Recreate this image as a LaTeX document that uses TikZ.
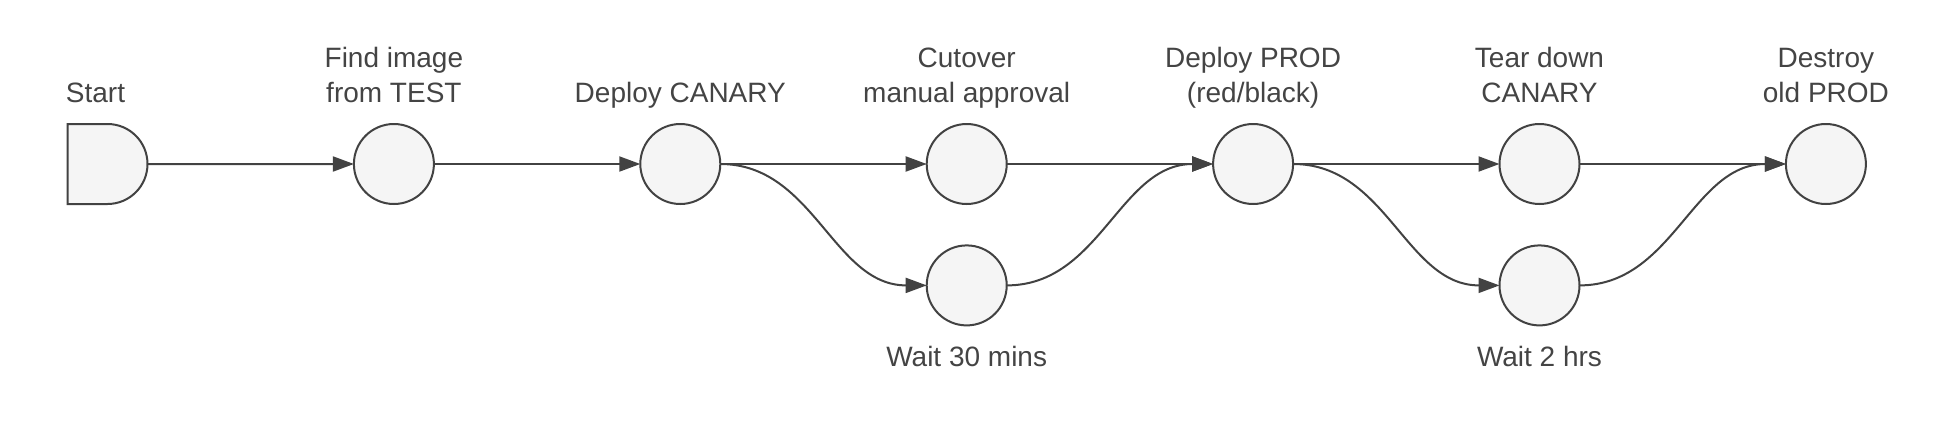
\documentclass[tikz,border=0pt]{standalone}
\usepackage{fontspec}
\setmainfont{Liberation Sans}
\usetikzlibrary{shapes.misc, arrows.meta, positioning}
\definecolor{edgegray}{HTML}{424242}
\definecolor{fillgray}{HTML}{F5F5F5}
\definecolor{textgray}{HTML}{444444}

\begin{document}
\begin{tikzpicture}[node distance=143.2pt, auto, >={Triangle[length=10.5pt,width=7.5pt]}]
        % Styles
        \tikzstyle{stage} = [circle, draw=edgegray, fill=fillgray, minimum size=40pt, inner sep=0pt, outer sep=0pt, line width=1pt]
        \tikzstyle{begin} = [rounded rectangle, rounded rectangle west arc=none, draw=edgegray, fill=fillgray, minimum width=40pt, minimum height=40pt, inner sep=0pt, outer sep=0pt, line width=1pt]
        \tikzstyle{lbl} = [font=\fontsize{14}{17.5}\selectfont, text=textgray, align=center, inner sep=0pt, text depth=0pt]
        \tikzstyle{line} = [draw=edgegray, line width=1pt, ->]

        \useasboundingbox (0,0) rectangle (978pt,-217pt);

        % Nodes
        \node (start) [begin, label={[lbl, label distance=10.5pt, xshift=-6pt]above:Start}] at (53.75pt,-82pt) {};
        \node (find) [stage, right of=start, label={[lbl, label distance=10.5pt]above:Find image\\from TEST}] {};
        \node (canary) [stage, right of=find, label={[lbl, label distance=10.5pt]above:Deploy CANARY}] {};
        \node (cutover) [stage, right of=canary, label={[lbl, label distance=10.5pt]above:Cutover\\manual approval}] {};
        \node (wait_canary) [stage, below of=cutover, node distance=60.7pt, label={[lbl, label distance=10pt]below:Wait 30 mins}] {};
        \node (prod) [stage, right of=cutover, label={[lbl, label distance=10.5pt]above:Deploy PROD\\(red/black)}] {};
        \node (teardown) [stage, right of=prod, label={[lbl, label distance=10.5pt]above:Tear down\\CANARY}] {};
        \node (wait_prod) [stage, below of=teardown, node distance=60.7pt, label={[lbl, label distance=10pt]below:Wait 2 hrs}] {};
        \node (destroy) [stage, right of=teardown, label={[lbl, label distance=10.5pt]above:Destroy\\old PROD}] {};

        % Edges along the top row
        \path [line] (start) -- (find);
        \path [line] (find) -- (canary);
        \path [line] (canary) -- (cutover);
        \path [line] (cutover) -- (prod);
        \path [line] (prod) -- (teardown);
        \path [line] (teardown) -- (destroy);

        % Detours through the wait steps
        \path [line] (canary.east) to [out=0, in=180] (wait_canary.west);
        \path [line] (wait_canary.east) to [out=0, in=180] (prod.west);
        \path [line] (prod.east) to [out=0, in=180] (wait_prod.west);
        \path [line] (wait_prod.east) to [out=0, in=180] (destroy.west);

    \end{tikzpicture}
\end{document}
